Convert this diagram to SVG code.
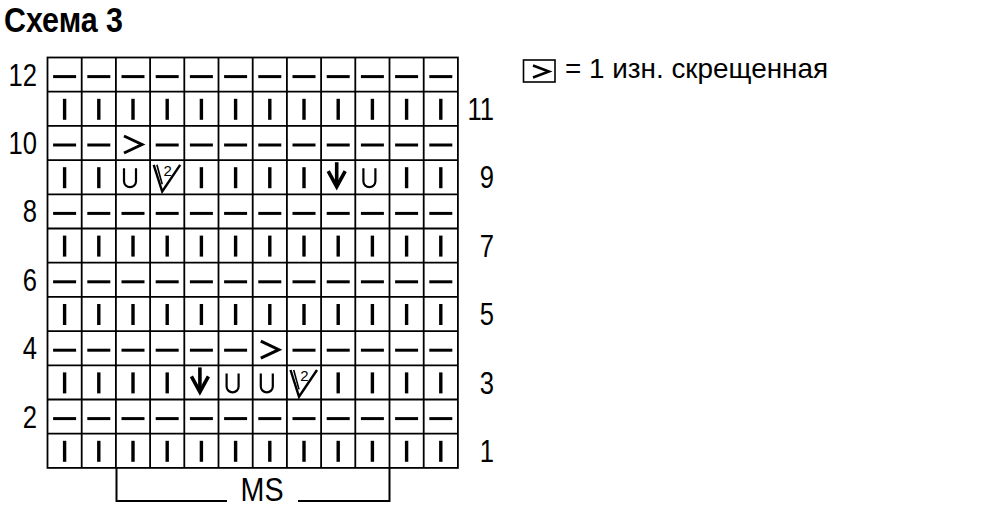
<svg xmlns="http://www.w3.org/2000/svg" xmlns:xlink="http://www.w3.org/1999/xlink" width="1000" height="525" viewBox="0 0 1000 525">
<style>
  .t{font-family:"Liberation Sans",Arial,sans-serif;fill:#000}
  .g{stroke:#000;stroke-width:1.8;fill:none}
  .s{stroke:#000;fill:none}
</style>
<defs>
  <line id="bar" x1="0" y1="-10" x2="0" y2="11" stroke="#000" stroke-width="3.4"/>
  <line id="dash" x1="-11.5" y1="2" x2="11.5" y2="2" stroke="#000" stroke-width="3"/>
  <polyline id="gt" points="-9,-7 9,1.5 -9,10" fill="none" stroke="#000" stroke-width="3"/>
  <path id="u" d="M-9,-9 V4 a6,6 0 0 0 12,0 V-9" fill="none" stroke="#000" stroke-width="2.2"/>
  <g id="arr" fill="none" stroke="#000" stroke-width="3.6">
    <line x1="-1.5" y1="-15" x2="-1.5" y2="8"/>
    <polyline points="-10,-6 -1.5,9.5 7,-6" stroke-linejoin="miter"/>
  </g>
  <g id="v2">
    <polyline points="-13.5,-12.4 -5,14.3 13,-12.4" fill="none" stroke="#000" stroke-width="2.4" stroke-linejoin="miter"/>
    <line x1="-10.3" y1="-12.4" x2="-5" y2="7" stroke="#000" stroke-width="1.6"/>
    <text class="t" x="0.5" y="-1.5" font-size="15" text-anchor="middle">2</text>
  </g>
</defs>
<rect width="1000" height="525" fill="#fff"/>
<g id="title">
  <text class="t" x="4" y="32" font-size="35" font-weight="bold" textLength="119" lengthAdjust="spacingAndGlyphs">Схема 3</text>
</g>
<g id="grid" class="g">
  <rect x="47.5" y="57.5" width="410.4" height="410.4"/>
  <path d="M81.7,57.5V467.9M115.9,57.5V467.9M150.1,57.5V467.9M184.3,57.5V467.9M218.5,57.5V467.9M252.7,57.5V467.9M286.9,57.5V467.9M321.1,57.5V467.9M355.3,57.5V467.9M389.5,57.5V467.9M423.7,57.5V467.9"/>
  <path d="M47.5,91.7H457.9M47.5,125.9H457.9M47.5,160.1H457.9M47.5,194.3H457.9M47.5,228.5H457.9M47.5,262.7H457.9M47.5,296.9H457.9M47.5,331.1H457.9M47.5,365.3H457.9M47.5,399.5H457.9M47.5,433.7H457.9"/>
</g>
<g id="symbols">
  <g transform="translate(0,74.6)"><use href="#dash" x="64.6"/><use href="#dash" x="98.8"/><use href="#dash" x="133"/><use href="#dash" x="167.2"/><use href="#dash" x="201.4"/><use href="#dash" x="235.6"/><use href="#dash" x="269.8"/><use href="#dash" x="304"/><use href="#dash" x="338.2"/><use href="#dash" x="372.4"/><use href="#dash" x="406.6"/><use href="#dash" x="440.8"/></g>
  <g transform="translate(0,108.8)"><use href="#bar" x="64.6"/><use href="#bar" x="98.8"/><use href="#bar" x="133"/><use href="#bar" x="167.2"/><use href="#bar" x="201.4"/><use href="#bar" x="235.6"/><use href="#bar" x="269.8"/><use href="#bar" x="304"/><use href="#bar" x="338.2"/><use href="#bar" x="372.4"/><use href="#bar" x="406.6"/><use href="#bar" x="440.8"/></g>
  <g transform="translate(0,143)"><use href="#dash" x="64.6"/><use href="#dash" x="98.8"/><use href="#gt" x="133"/><use href="#dash" x="167.2"/><use href="#dash" x="201.4"/><use href="#dash" x="235.6"/><use href="#dash" x="269.8"/><use href="#dash" x="304"/><use href="#dash" x="338.2"/><use href="#dash" x="372.4"/><use href="#dash" x="406.6"/><use href="#dash" x="440.8"/></g>
  <g transform="translate(0,177.2)"><use href="#bar" x="64.6"/><use href="#bar" x="98.8"/><use href="#u" x="133"/><use href="#v2" x="167.2"/><use href="#bar" x="201.4"/><use href="#bar" x="235.6"/><use href="#bar" x="269.8"/><use href="#bar" x="304"/><use href="#arr" x="338.2"/><use href="#u" x="372.4"/><use href="#bar" x="406.6"/><use href="#bar" x="440.8"/></g>
  <g transform="translate(0,211.4)"><use href="#dash" x="64.6"/><use href="#dash" x="98.8"/><use href="#dash" x="133"/><use href="#dash" x="167.2"/><use href="#dash" x="201.4"/><use href="#dash" x="235.6"/><use href="#dash" x="269.8"/><use href="#dash" x="304"/><use href="#dash" x="338.2"/><use href="#dash" x="372.4"/><use href="#dash" x="406.6"/><use href="#dash" x="440.8"/></g>
  <g transform="translate(0,245.6)"><use href="#bar" x="64.6"/><use href="#bar" x="98.8"/><use href="#bar" x="133"/><use href="#bar" x="167.2"/><use href="#bar" x="201.4"/><use href="#bar" x="235.6"/><use href="#bar" x="269.8"/><use href="#bar" x="304"/><use href="#bar" x="338.2"/><use href="#bar" x="372.4"/><use href="#bar" x="406.6"/><use href="#bar" x="440.8"/></g>
  <g transform="translate(0,279.8)"><use href="#dash" x="64.6"/><use href="#dash" x="98.8"/><use href="#dash" x="133"/><use href="#dash" x="167.2"/><use href="#dash" x="201.4"/><use href="#dash" x="235.6"/><use href="#dash" x="269.8"/><use href="#dash" x="304"/><use href="#dash" x="338.2"/><use href="#dash" x="372.4"/><use href="#dash" x="406.6"/><use href="#dash" x="440.8"/></g>
  <g transform="translate(0,314)"><use href="#bar" x="64.6"/><use href="#bar" x="98.8"/><use href="#bar" x="133"/><use href="#bar" x="167.2"/><use href="#bar" x="201.4"/><use href="#bar" x="235.6"/><use href="#bar" x="269.8"/><use href="#bar" x="304"/><use href="#bar" x="338.2"/><use href="#bar" x="372.4"/><use href="#bar" x="406.6"/><use href="#bar" x="440.8"/></g>
  <g transform="translate(0,348.2)"><use href="#dash" x="64.6"/><use href="#dash" x="98.8"/><use href="#dash" x="133"/><use href="#dash" x="167.2"/><use href="#dash" x="201.4"/><use href="#dash" x="235.6"/><use href="#gt" x="269.8"/><use href="#dash" x="304"/><use href="#dash" x="338.2"/><use href="#dash" x="372.4"/><use href="#dash" x="406.6"/><use href="#dash" x="440.8"/></g>
  <g transform="translate(0,382.4)"><use href="#bar" x="64.6"/><use href="#bar" x="98.8"/><use href="#bar" x="133"/><use href="#bar" x="167.2"/><use href="#arr" x="201.4"/><use href="#u" x="235.6"/><use href="#u" x="269.8"/><use href="#v2" x="304"/><use href="#bar" x="338.2"/><use href="#bar" x="372.4"/><use href="#bar" x="406.6"/><use href="#bar" x="440.8"/></g>
  <g transform="translate(0,416.6)"><use href="#dash" x="64.6"/><use href="#dash" x="98.8"/><use href="#dash" x="133"/><use href="#dash" x="167.2"/><use href="#dash" x="201.4"/><use href="#dash" x="235.6"/><use href="#dash" x="269.8"/><use href="#dash" x="304"/><use href="#dash" x="338.2"/><use href="#dash" x="372.4"/><use href="#dash" x="406.6"/><use href="#dash" x="440.8"/></g>
  <g transform="translate(0,450.8)"><use href="#bar" x="64.6"/><use href="#bar" x="98.8"/><use href="#bar" x="133"/><use href="#bar" x="167.2"/><use href="#bar" x="201.4"/><use href="#bar" x="235.6"/><use href="#bar" x="269.8"/><use href="#bar" x="304"/><use href="#bar" x="338.2"/><use href="#bar" x="372.4"/><use href="#bar" x="406.6"/><use href="#bar" x="440.8"/></g>
</g>
<g id="row-labels" class="t" font-size="32">
  <text transform="translate(37,85.6) scale(0.8,1)" text-anchor="end">12</text>
  <text transform="translate(37,154) scale(0.8,1)" text-anchor="end">10</text>
  <text transform="translate(37,222.4) scale(0.8,1)" text-anchor="end">8</text>
  <text transform="translate(37,290.8) scale(0.8,1)" text-anchor="end">6</text>
  <text transform="translate(37,359.2) scale(0.8,1)" text-anchor="end">4</text>
  <text transform="translate(37,427.6) scale(0.8,1)" text-anchor="end">2</text>
  <text transform="translate(494,120) scale(0.8,1)" text-anchor="end">11</text>
  <text transform="translate(494,188.4) scale(0.8,1)" text-anchor="end">9</text>
  <text transform="translate(494,256.8) scale(0.8,1)" text-anchor="end">7</text>
  <text transform="translate(494,325.2) scale(0.8,1)" text-anchor="end">5</text>
  <text transform="translate(494,393.6) scale(0.8,1)" text-anchor="end">3</text>
  <text transform="translate(494,462) scale(0.8,1)" text-anchor="end">1</text>
</g>
<g id="ms-bracket">
  <polyline class="s" stroke-width="2" points="116.5,467.9 116.5,501 227,501"/>
  <polyline class="s" stroke-width="2" points="298,501 389.5,501 389.5,467.9"/>
  <text class="t" x="240.5" y="500.5" font-size="33" textLength="43" lengthAdjust="spacingAndGlyphs">MS</text>
</g>
<g id="legend">
  <rect x="523.5" y="60" width="31.5" height="22" class="s" stroke-width="1.6"/>
  <polyline class="s" stroke-width="2.5" points="533,65.5 549,71.5 533,77.5"/>
  <text class="t" x="565" y="77.5" font-size="28" textLength="263" lengthAdjust="spacingAndGlyphs">= 1 изн. скрещенная</text>
</g>
</svg>
